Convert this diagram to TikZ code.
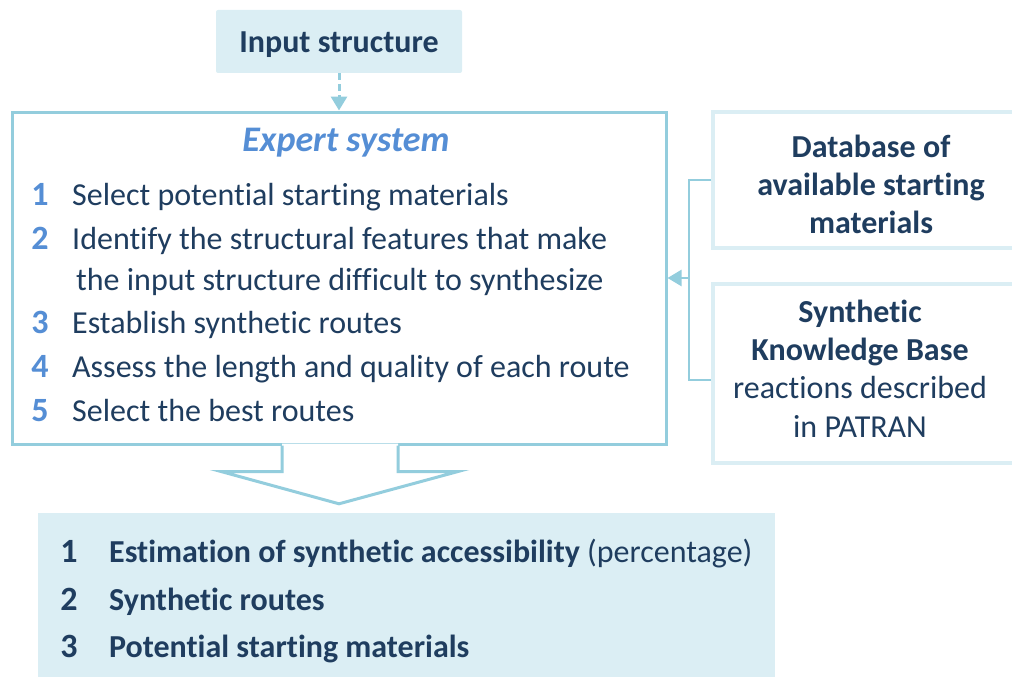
\documentclass[tikz,border=0pt]{standalone}
\usepackage{fontspec}
\setmainfont{Carlito}[Ligatures=NoCommon]
\usetikzlibrary{arrows.meta,calc}
\definecolor{navy}{HTML}{1F3D5F}
\definecolor{numblue}{HTML}{558ED5}
\definecolor{edgeblue}{HTML}{93CDDD}
\definecolor{lightfill}{HTML}{DBEEF4}
\begin{document}
\begin{tikzpicture}[x=1pt,y=-1pt,
  txt/.style={font=\fontsize{32}{38}\selectfont, text=navy, inner sep=0pt},
  btxt/.style={txt, font=\fontsize{32}{38}\selectfont\bfseries},
  num/.style={font=\fontsize{34}{38}\selectfont\bfseries, text=numblue, inner sep=0pt, anchor=base},
  bnum/.style={font=\fontsize{34}{38}\selectfont\bfseries, text=navy, inner sep=0pt, anchor=base},
  item/.style={txt, anchor=base west},
  sidebox/.style={draw=lightfill, line width=4pt, fill=white, inner sep=0pt},
  conn/.style={draw=edgeblue, line width=3pt}
]
\useasboundingbox (0,0) rectangle (1012,677);

% boxes
\node[fill=lightfill, rounded corners=2pt, minimum width=246pt, minimum height=63pt, inner sep=0pt] (inp) at (339,41.5) {};
\node[draw=edgeblue, line width=3pt, minimum width=654pt, minimum height=332pt, inner sep=0pt, fill=white] (exp) at (339,278) {};
\node[sidebox, minimum width=317pt, minimum height=136pt] (db) at (871.5,180) {};
\node[sidebox, minimum width=317pt, minimum height=179pt] (syn) at (871.5,373.5) {};
\node[fill=lightfill, minimum width=737pt, minimum height=167pt, inner sep=0pt] (bot) at (406.5,596.5) {};

% texts
\node[btxt, anchor=base] (inpt) at (339,53) {Input structure};
\node[inner sep=0pt, anchor=base, text=numblue, font=\fontsize{36}{40}\selectfont\bfseries\itshape] (expt) at (346,151) {Expert system};

\node[num] (n1) at (40,205) {1};
\node[item] (t1) at (72,205) {Select potential starting materials};
\node[num] (n2) at (40,249) {2};
\node[item] (t2) at (72,249) {Identify the structural features that make};
\node[item] (t2b) at (76,290) {the input structure difficult to synthesize};
\node[num] (n3) at (40,333) {3};
\node[item] (t3) at (72,333) {Establish synthetic routes};
\node[num] (n4) at (40,377) {4};
\node[item] (t4) at (72,377) {Assess the length and quality of each route};
\node[num] (n5) at (40,421) {5};
\node[item] (t5) at (72,421) {Select the best routes};

\node[btxt, anchor=base] (dbt1) at (871,157) {Database of};
\node[btxt, anchor=base] (dbt2) at (871,195) {available starting};
\node[btxt, anchor=base] (dbt3) at (871,233) {materials};

\node[btxt, anchor=base] (syt1) at (860,322) {Synthetic};
\node[btxt, anchor=base] (syt2) at (860,360) {Knowledge Base};
\node[txt, anchor=base] (syt3) at (860,398) {reactions described};
\node[txt, anchor=base] (syt4) at (860,437) {in PATRAN};

\node[bnum] (b1) at (69,562) {1};
\node[btxt, anchor=base west] (bt1) at (109,562) {Estimation of synthetic accessibility \mdseries(percentage)};
\node[bnum] (b2) at (69,610) {2};
\node[btxt, anchor=base west] (bt2) at (109,610) {Synthetic routes};
\node[bnum] (b3) at (69,657) {3};
\node[btxt, anchor=base west] (bt3) at (109,657) {Potential starting materials};

% dashed arrow from input to expert system
\draw[conn, dash pattern=on 7pt off 4pt, -{Triangle[width=16pt,length=14pt]}] (inp.south) -- (exp.north);

% bracket from side boxes to expert system
\coordinate (brk) at (689,278);
\draw[draw=edgeblue, line width=2.5pt] (db.west) -| (brk) |- ([yshift=-6.5pt]syn.west);
\draw[draw=edgeblue, line width=2.5pt, -{Triangle[width=16pt,length=14pt]}] (brk) -- (exp.east);

% big outlined arrow from expert system to results
\fill[white] ($(exp.south)+(-57,-2)$) -- ($(exp.south)+(-57,26)$) -- ($(exp.south)+(-118,26)$) -- ($(exp.south)+(0,60)$) -- ($(exp.south)+(119,26)$) -- ($(exp.south)+(59,26)$) -- ($(exp.south)+(59,-2)$) -- cycle;
\draw[draw=edgeblue, line width=3pt, line join=miter] ($(exp.south)+(-57,0)$) -- ($(exp.south)+(-57,26)$) -- ($(exp.south)+(-118,26)$) -- ($(bot.north)+(-67.5,-9)$) -- ($(exp.south)+(119,26)$) -- ($(exp.south)+(59,26)$) -- ($(exp.south)+(59,0)$);
\end{tikzpicture}
\end{document}
